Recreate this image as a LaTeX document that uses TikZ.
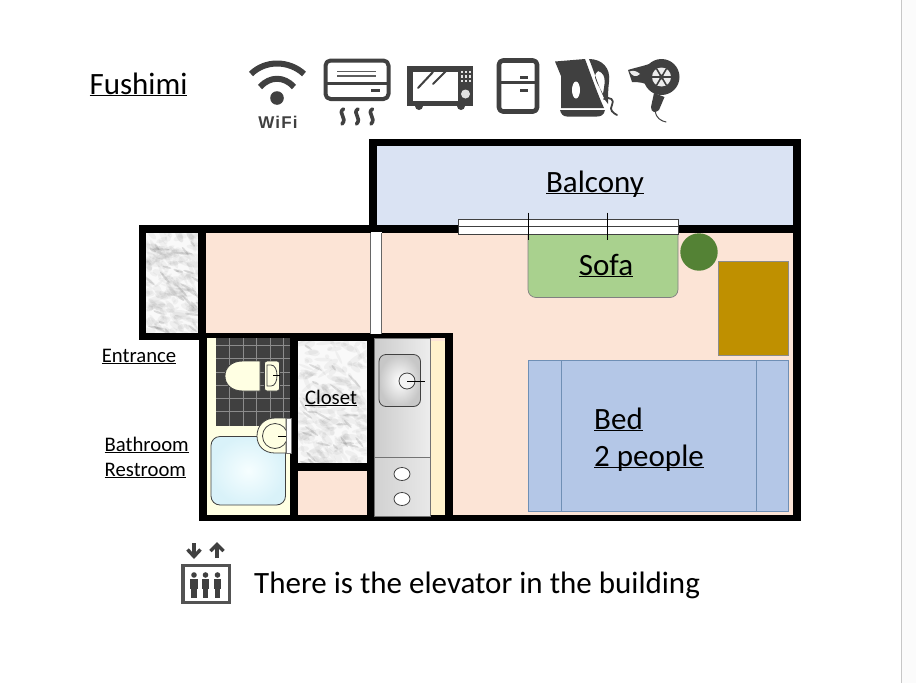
\documentclass[tikz,border=0pt]{standalone}
\usepackage{fontspec}
\setmainfont{Carlito}
\newfontfamily\wififont[LetterSpace=7]{Liberation Sans}
\usetikzlibrary{shadings}
\definecolor{peach}{HTML}{FCE4D6}
\definecolor{balc}{HTML}{DAE3F3}
\definecolor{creamA}{HTML}{FFFFE3}
\definecolor{creamB}{HTML}{FFF2CC}
\definecolor{sofac}{HTML}{A9D18E}
\definecolor{plantc}{HTML}{548235}
\definecolor{cabc}{HTML}{BF9000}
\definecolor{bedc}{HTML}{B4C7E7}
\definecolor{bedl}{HTML}{6F8FB5}
\definecolor{icon}{HTML}{404040}
\definecolor{tile}{HTML}{404040}
\definecolor{bathin}{HTML}{F6FEFF}
\definecolor{bathout}{HTML}{D9F2F9}
\newcommand{\ulabel}[1]{\underline{\smash{#1}}}
\newcommand{\fs}[1]{\fontsize{#1}{#1}\selectfont}
\newcommand{\marble}[5]{% x1 y1 x2 y2 seed
  \begin{scope}
    \clip (#1,#2) rectangle (#3,#4);
    \fill[white!95!gray] (#1,#2) rectangle (#3,#4);
    \pgfmathsetseed{#5}
    \foreach \i in {1,...,220}{
      \pgfmathsetmacro{\mx}{#1+rnd*(#3-#1)}
      \pgfmathsetmacro{\my}{#2+rnd*(#4-#2)}
      \pgfmathsetmacro{\mw}{2+rnd*8}
      \pgfmathsetmacro{\mh}{1+rnd*2.5}
      \pgfmathsetmacro{\ma}{-70+rnd*110}
      \fill[black!55,opacity=.07,rotate around={\ma:(\mx,\my)}] (\mx,\my) ellipse [x radius=\mw,y radius=\mh];
    }
    \foreach \i in {1,...,28}{
      \pgfmathsetmacro{\mx}{#1+rnd*(#3-#1)}
      \pgfmathsetmacro{\my}{#2+rnd*(#4-#2)}
      \pgfmathsetmacro{\mw}{3+rnd*6}
      \pgfmathsetmacro{\ma}{-60+rnd*60}
      \fill[black!60,opacity=.2,rotate around={\ma:(\mx,\my)}] (\mx,\my) ellipse [x radius=\mw,y radius=1.1];
    }
  \end{scope}}
\tikzset{
  x=1pt,y=-1pt,
  wall/.style={fill=black},
  thinline/.style={draw=black,line width=.8pt},
  iconline/.style={draw=icon,line cap=round,line join=round},
  label/.style={inner sep=0pt,text=black},
  fixture/.style={draw=black!75,line width=.8pt},
}
\begin{document}
\begin{tikzpicture}
\useasboundingbox (0,0) rectangle (916,683);
\fill[white] (0,0) rectangle (916,683);
\fill[black!1.5] (902,0) rectangle (916,683);
\draw[black!22,line width=1.5pt] (901.5,0) -- (901.5,683);

% --- floors
\fill[balc] (377,146) rectangle (793,226);
\fill[peach] (206,232) rectangle (793,516);
\marble{146}{233}{199}{333}{11}
% walls: balcony & main
\fill[wall] (369,139) rectangle (801,146);
\fill[wall] (369,139) rectangle (377,226);
\fill[wall] (793,139) rectangle (801,521);
\fill[wall] (139,225) rectangle (801,233);
\fill[wall] (139,225) rectangle (146,340);
\fill[wall] (198,225) rectangle (206,340);
\fill[wall] (139,333) rectangle (207,340);
\fill[wall] (199,515) rectangle (801,521);
% lower block
\fill[creamA] (207,337) rectangle (290,515);
\fill[tile] (216,337) rectangle (290,426);
\foreach \xx in {229,243,256,270,283}{\draw[black!45,line width=.8pt] (\xx,337) -- (\xx,426);}
\foreach \yy in {345,358,372,385,398,411}{\draw[black!45,line width=.8pt] (216,\yy) -- (290,\yy);}
\marble{298}{341}{367}{464}{29}
\fill[wall] (199,333) rectangle (452,338);
\fill[wall] (199,333) rectangle (207,521);
\fill[wall] (290,337) rectangle (298,521);
\fill[wall] (290,338) rectangle (374,341);
\fill[wall] (367,337) rectangle (374,521);
\fill[wall] (297,463) rectangle (374,471);
\fill[wall] (445,333) rectangle (452.5,521);
\fill[creamB] (430,341) rectangle (445,515);
% kitchen
\shade[left color=black!20,right color=black!7,draw=black!55,line width=.5pt] (374,338) rectangle (430.5,457);
\shade[left color=black!18,right color=black!9,draw=black!55,line width=.5pt] (374,457) rectangle (430.5,516);
\shade[inner color=white,outer color=black!22,fixture,rounded corners=7pt] (379,354.5) rectangle (420.5,406.5);
\fill[white!90!gray] (407,381) circle (8);
\draw[fixture] (407,381) circle (8);
\draw[thinline] (407,381) -- (425,381);
\draw[fixture,fill=white] (402,474) ellipse [x radius=8,y radius=6.5];
\draw[fixture,fill=white] (402,499) ellipse [x radius=8,y radius=6.5];
% door strip
\fill[white] (370.5,232) rectangle (381.5,334);
\draw[black!60,line width=.5pt] (370.5,233) -- (370.5,334) (381.5,233) -- (381.5,334);
% toilet
\draw[fixture,fill=creamA] (260,361) -- (243,361) .. controls (231,361) and (225,368) .. (225,376) .. controls (225,384) and (231,391) .. (243,391) -- (260,391) -- cycle;
\draw[fixture,fill=creamA,rounded corners=2.5pt] (264.5,361) rectangle (279.5,391);
\draw[fixture,fill=creamA] (267,365) -- (271,365) .. controls (275,365) and (277,370) .. (277,375.5) .. controls (277,381) and (275,386) .. (271,386) -- (267,386) -- cycle;
\draw[thinline] (273,375.5) -- (279.5,375.5);
% bath
\shade[inner color=bathin,outer color=bathout,draw=black!75,line width=.8pt,rounded corners=9pt] (211,436.5) rectangle (285.5,505);
% washbasin
\draw[fixture,fill=creamA] (286,418) -- (275,418) .. controls (264,418) and (257,426) .. (257,436) .. controls (257,446) and (264,453) .. (275,453) -- (286,453) -- cycle;
\draw[fixture,fill=creamA] (275,436) circle (12.5);
\draw[thinline] (278,436) -- (287,436);
\fill[white] (286.5,418) rectangle (291.5,453);
\draw[black!55,line width=.5pt] (286.5,418) rectangle (291.5,453);
% furniture
\draw[fill=sofac,draw=black!50,line width=.7pt,rounded corners=8pt] (528,225) -- (528,297.5) -- (678,297.5) -- (678,225);
\fill[plantc] (699,252) circle (18.7);
\draw[fill=cabc,draw=black!45,line width=.8pt] (718.7,261) rectangle (788.5,355);
\draw[fill=bedc,draw=bedl,line width=.8pt] (528,360.5) rectangle (788.5,511);
\draw[bedl,line width=.8pt] (561,360.5) -- (561,511) (756,360.5) -- (756,511);
% window
\draw[fill=white,draw=black!75,line width=.8pt] (458.5,219) rectangle (678,234);
\draw[black!75,line width=.8pt] (458.5,226) -- (678,226);
\draw[thinline] (528.7,212.5) -- (528.7,239.5) (607.2,212.5) -- (607.2,239.5);

% --- labels
\node[label,anchor=base] (fushimi) at (138.5,94) {\fs{31}\ulabel{Fushimi}};
\node[label,anchor=base] (balcony) at (595,192) {\fs{31}\ulabel{Balcony}};
\node[label,anchor=base] (sofa) at (606,275) {\fs{31}\ulabel{Sofa}};
\node[label,anchor=base west] (bed) at (594,429) {\fs{31}\ulabel{Bed}};
\node[label,anchor=base west] (people) at (594,466) {\fs{31}\ulabel{2 people}};
\node[label,anchor=base] (entrance) at (139,362) {\fs{20.7}\ulabel{Entrance}};
\node[label,anchor=base west] (bathroom) at (104.5,451) {\fs{20.7}\ulabel{Bathroom}};
\node[label,anchor=base west] (restroom) at (104.5,476) {\fs{20.7}\ulabel{Restroom}};
\node[label,anchor=base] (closet) at (331,404) {\fs{20.7}\ulabel{Closet}};
\node[label,anchor=base west] (elev) at (254,593) {\fs{31}There is the elevator in the building};

% --- icons
% wifi
\draw[iconline,line width=6pt,line cap=butt] (251,74) .. controls (265,60) and (289,60) .. (304,74);
\draw[iconline,line width=6pt,line cap=butt] (260,87) .. controls (270,76) and (284,76) .. (294,87);
\fill[icon] (277,98) circle (6.8);
\node[label,anchor=base,text=icon] (wifi) at (278,128) {\wififont\fs{17}\bfseries WiFi};
% air conditioner
\draw[iconline,line width=4pt,rounded corners=5pt] (325.5,60.5) rectangle (388.5,99);
\draw[iconline,line width=3.4pt,line cap=butt] (325.5,83.5) -- (388.5,83.5);
\draw[icon!85,line width=1.6pt] (337,71.5) -- (376,71.5) (337,76) -- (376,76);
\draw[icon,line width=3pt] (371,90.5) -- (380,90.5);
\foreach \xx in {342,356.5,371}{
  \draw[iconline,line width=3.6pt] (\xx+1.5,109) .. controls (\xx-5,113) and (\xx+6,118) .. (\xx,124);
}
% microwave
\fill[icon] (407,66) rectangle (473,106);
\fill[white] (413,71.5) rectangle (458,101);
\fill[icon] (419,106) circle (4) (461,106) circle (4);
\draw[icon,line width=2pt,line cap=round] (418,88) -- (433,72) (433,84) -- (446,71);
\foreach \xx in {462,466,470}\foreach \yy in {72,76.5,81}{\fill[white!85!icon] (\xx-1.4,\yy-1.4) rectangle (\xx+1.2,\yy+1.4);}
\fill[white!85!icon] (465.5,94) circle (4.5);
% fridge
\draw[iconline,line width=4.6pt,rounded corners=4pt] (499,60.5) rectangle (537,111.5);
\draw[icon,line width=3pt] (499,82.5) -- (537,82.5);
\draw[icon,line width=3pt] (520,77) -- (528,77) (520,90) -- (528,90);
% kettle
\fill[icon] (555,61.5) -- (585,59) .. controls (592,78) and (598,95) .. (604,108) -- (561,108) -- (561,76) -- cycle;
\fill[icon] (560,110) -- (605,110) .. controls (604,115) and (601,116.5) .. (597,116.5) -- (567,116.5) .. controls (563,116.5) and (561,114) .. (560,110) -- cycle;
\path[fill=icon,even odd rule] (589,59) .. controls (602,59) and (611,68) .. (609,82) .. controls (608,90) and (608,96) .. (608,104) -- (605,100) .. controls (599,88) and (595,74) .. (589,59) -- cycle
  (598,71) .. controls (591,76) and (598,84) .. (603,94) .. controls (604,86) and (608,74) .. (598,71) -- cycle;
\fill[white] (576,90) ellipse [x radius=4,y radius=8.5];
\draw[iconline,line width=1.8pt] (604,99) .. controls (610,96) and (615,100) .. (612,105) .. controls (609,110) and (613,113) .. (617,115);
% hair dryer
\fill[icon] (661.5,77) circle (18);
\fill[icon] (628,70) .. controls (634,68) and (644,66) .. (652,63) -- (652,88) .. controls (645,82) and (638,82) .. (632,82) -- cycle;
\fill[white!90!icon] (629.5,71.5) .. controls (633,70) and (637,71) .. (640,74) .. controls (636,78) and (632,76) .. (629.5,71.5) -- cycle;
\fill[white!90!icon] (661.5,77) circle (9.5);
\draw[icon,line width=1.6pt] (652,77) -- (671,77) (656.7,69) -- (666.3,85) (656.7,85) -- (666.3,69);
\fill[icon] (661.5,77) circle (2.5);
\fill[icon] (654,93) -- (664.5,97) -- (659,110) .. controls (656,113) and (651,113) .. (651,107) -- cycle;
\draw[iconline,line width=1pt] (655,111) .. controls (656,118) and (661,121) .. (666,122);
% elevator
\draw[draw=icon!90,line width=3.4pt] (183,565.5) rectangle (229.5,602.5);
\foreach \xx/\nm in {194/a,205.5/b,217.5/c}{
  \fill[icon] (\xx,575) circle (2.8);
  \fill[icon] (\xx-3.8,579) rectangle (\xx+3.8,589);
  \fill[icon] (\xx-2.8,588) rectangle (\xx+2.8,598);
}
\draw[icon,line width=3.4pt] (194,543) -- (194,556);
\draw[icon,line width=3.4pt] (187.5,549.5) -- (194,556.5) -- (200.5,549.5);
\draw[icon,line width=3.4pt] (217,558) -- (217,545);
\draw[icon,line width=3.4pt] (210.5,551) -- (217,544.5) -- (223.5,551);
\end{tikzpicture}
\end{document}
